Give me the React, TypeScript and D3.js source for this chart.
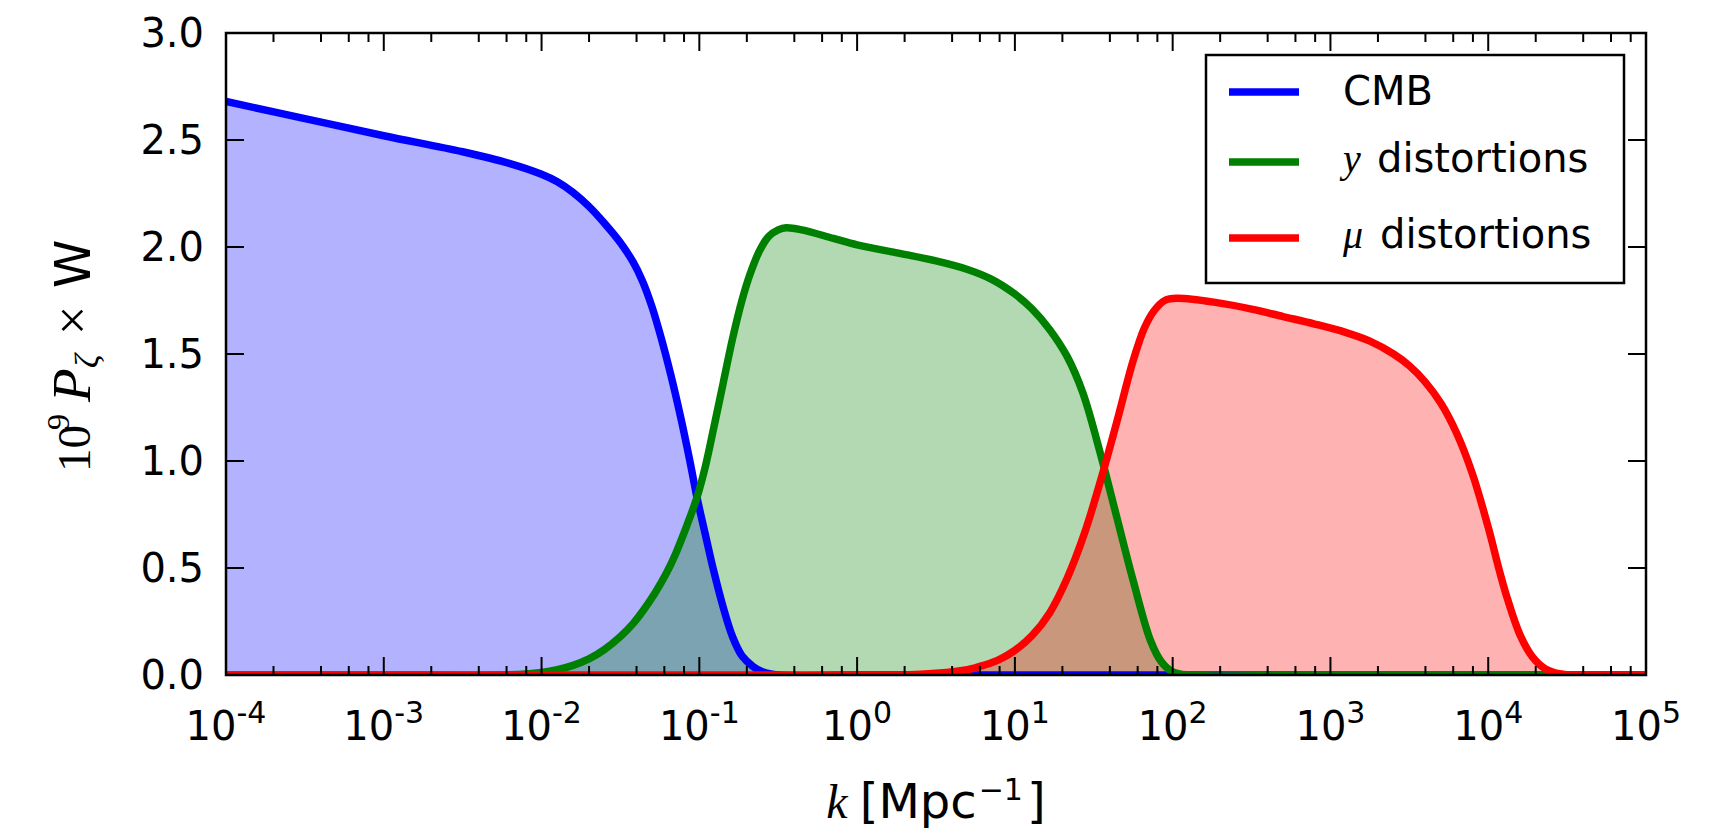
import React from "react";
import * as d3 from "d3";

// ---- data (log10 k, value) ----
const cmbLogK = [-4.0, -3.5, -3.0, -2.5, -2.2, -2.0, -1.9, -1.8, -1.7, -1.6, -1.5, -1.42, -1.36, -1.3, -1.24, -1.18, -1.12, -1.06, -1.015, -0.96, -0.91, -0.85, -0.79, -0.73, -0.66, -0.6, -0.5, 0, 1, 2, 3, 4, 5];
const cmbVal = [2.68, 2.6, 2.52, 2.445, 2.39, 2.34, 2.305, 2.255, 2.19, 2.11, 2.02, 1.93, 1.84, 1.72, 1.57, 1.4, 1.21, 1.0, 0.83, 0.65, 0.49, 0.32, 0.18, 0.09, 0.04, 0.015, 0, 0, 0, 0, 0, 0, 0];

const yLogK = [-4.0, -3.0, -2.3, -2.1, -2.0, -1.9, -1.8, -1.7, -1.6, -1.5, -1.42, -1.35, -1.28, -1.21, -1.15, -1.08, -1.015, -0.96, -0.91, -0.85, -0.79, -0.73, -0.68, -0.62, -0.56, -0.5, -0.45, -0.35, -0.15, 0.0, 0.27, 0.5, 0.7, 0.85, 1.0, 1.11, 1.22, 1.33, 1.43, 1.54, 1.645, 1.75, 1.86, 1.93, 2.0, 2.1, 3, 4, 5];
const yVal = [0, 0, 0, 0.005, 0.012, 0.025, 0.045, 0.075, 0.12, 0.18, 0.24, 0.307, 0.384, 0.474, 0.567, 0.697, 0.83, 0.98, 1.15, 1.36, 1.57, 1.75, 1.87, 1.98, 2.05, 2.08, 2.09, 2.08, 2.04, 2.01, 1.97, 1.935, 1.895, 1.85, 1.78, 1.71, 1.615, 1.49, 1.32, 1.04, 0.74, 0.44, 0.16, 0.06, 0.015, 0, 0, 0, 0];

const muLogK = [-4.0, -3, -2, -1, 0, 0.3, 0.5, 0.7, 0.8, 0.9, 1.0, 1.11, 1.22, 1.33, 1.44, 1.54, 1.645, 1.75, 1.82, 1.88, 1.95, 2.03, 2.28, 2.5, 2.7, 2.9, 3.1, 3.25, 3.4, 3.5, 3.6, 3.7, 3.8, 3.9, 4.0, 4.07, 4.12, 4.2, 4.28, 4.36, 4.45, 4.55, 5.0];
const muVal = [0, 0, 0, 0, 0, 0, 0.008, 0.025, 0.045, 0.072, 0.115, 0.185, 0.29, 0.45, 0.66, 0.9, 1.18, 1.47, 1.62, 1.7, 1.75, 1.76, 1.74, 1.71, 1.675, 1.64, 1.6, 1.56, 1.5, 1.445, 1.37, 1.27, 1.13, 0.94, 0.69, 0.49, 0.36, 0.19, 0.085, 0.03, 0.006, 0, 0];

const xTickExps = [-4, -3, -2, -1, 0, 1, 2, 3, 4, 5];
const minorSubs = [2, 4, 6, 8];
const yTicks = [0, 0.5, 1.0, 1.5, 2.0, 2.5, 3.0];

const seriesNames = ["CMB", "y", "μ"];
const seriesColors = ["#0000ff", "#008000", "#ff0000"];

export default function App() {
  const W = 1736, H = 833;
  const L = 226, R = 1646, T = 33, B = 675;
  const x = d3.scaleLog().domain([1e-4, 1e5]).range([L, R]);
  const y = d3.scaleLinear().domain([0, 3]).range([B, T]);

  const series = [
    { k: cmbLogK, v: cmbVal },
    { k: yLogK, v: yVal },
    { k: muLogK, v: muVal },
  ].map((s) => s.k.map((lk, i) => [Math.pow(10, lk), s.v[i]] as [number, number]));

  const curve = d3.curveCatmullRom.alpha(0.5);
  const line = d3.line<[number, number]>().x((d) => x(d[0])).y((d) => y(d[1])).curve(curve);
  const area = d3.area<[number, number]>().x((d) => x(d[0])).y0(y(0)).y1((d) => y(d[1])).curve(curve);

  const minorTicks: number[] = [];
  for (let e = -4; e < 5; e++) for (const s of minorSubs) minorTicks.push(s * Math.pow(10, e));

  const font = "'DejaVu Sans', sans-serif";
  const serif = "'Liberation Serif', 'DejaVu Serif', serif";
  const tickColor = "#000";

  return (
    <svg width={W} height={H} style={{ position: "absolute", left: 0, top: 0, background: "#fff" }}>
      <defs>
        <clipPath id="plotclip">
          <rect x={L} y={T} width={R - L} height={B - T} />
        </clipPath>
      </defs>
      <rect x={0} y={0} width={W} height={H} fill="#fff" />
      <g clipPath="url(#plotclip)">
        {series.map((s, i) => (
          <path key={"a" + i} d={area(s) || ""} fill={seriesColors[i]} fillOpacity={0.3} stroke="none" />
        ))}
        {series.map((s, i) => (
          <path key={"l" + i} d={line(s) || ""} fill="none" stroke={seriesColors[i]} strokeWidth={7.5} strokeLinejoin="round" />
        ))}
      </g>
      {/* x ticks */}
      {xTickExps.map((e) => {
        const px = x(Math.pow(10, e));
        return (
          <g key={"xt" + e}>
            <line x1={px} x2={px} y1={B} y2={B - 18} stroke={tickColor} strokeWidth={2} />
            <line x1={px} x2={px} y1={T} y2={T + 18} stroke={tickColor} strokeWidth={2} />
            <text x={px} y={740} textAnchor="middle" fontFamily={font} fontSize={40} fill="#000">
              10<tspan dy={-17} fontSize={30}>{e < 0 ? "-" + Math.abs(e) : String(e)}</tspan>
            </text>
          </g>
        );
      })}
      {minorTicks.map((m, i) => {
        const px = x(m);
        return (
          <g key={"mt" + i}>
            <line x1={px} x2={px} y1={B} y2={B - 9} stroke={tickColor} strokeWidth={2} />
            <line x1={px} x2={px} y1={T} y2={T + 9} stroke={tickColor} strokeWidth={2} />
          </g>
        );
      })}
      {/* y ticks */}
      {yTicks.map((t) => {
        const py = y(t);
        return (
          <g key={"yt" + t}>
            <line x1={L} x2={L + 18} y1={py} y2={py} stroke={tickColor} strokeWidth={2} />
            <line x1={R} x2={R - 18} y1={py} y2={py} stroke={tickColor} strokeWidth={2} />
            <text x={204} y={py + 14} textAnchor="end" fontFamily={font} fontSize={40} fill="#000">
              {t.toFixed(1)}
            </text>
          </g>
        );
      })}
      <rect x={L} y={T} width={R - L} height={B - T} fill="none" stroke="#000" strokeWidth={2.5} />

      {/* legend */}
      <rect x={1206} y={55} width={418} height={228} fill="#fff" stroke="#000" strokeWidth={2.5} />
      {[92, 162, 238].map((ly, i) => (
        <line key={"lg" + i} x1={1229} x2={1299} y1={ly} y2={ly} stroke={seriesColors[i]} strokeWidth={7.5} />
      ))}
      <text x={1343} y={105} fontFamily={font} fontSize={40} fill="#000">CMB</text>
      <text x={1343} y={172} fontFamily={font} fontSize={40} fill="#000">
        <tspan fontFamily={serif} fontStyle="italic">{seriesNames[1]}</tspan>
        <tspan x={1377}>distortions</tspan>
      </text>
      <text x={1343} y={248} fontFamily={font} fontSize={40} fill="#000">
        <tspan fontFamily={serif} fontStyle="italic">{seriesNames[2]}</tspan>
        <tspan x={1380}>distortions</tspan>
      </text>

      {/* x label */}
      <text x={936} y={818} textAnchor="middle" fontFamily={font} fontSize={48} fill="#000">
        <tspan fontFamily={serif} fontStyle="italic">k</tspan>
        <tspan dx={12}>[Mpc</tspan>
        <tspan dy={-18} dx={2} fontSize={30}>−1</tspan>
        <tspan dy={18} dx={4}>]</tspan>
      </text>

      {/* y label */}
      <g transform="translate(90,472) rotate(-90)" fill="#000">
        <text x={0} y={0} fontFamily={serif} fontSize={47}>10</text>
        <text x={42} y={-21} fontFamily={serif} fontSize={32}>9</text>
        <text x={70} y={0} fontFamily={serif} fontStyle="italic" fontSize={55}>P</text>
        <text x={104} y={8} fontFamily={serif} fontStyle="italic" fontSize={34}>ζ</text>
        <text x={137} y={0} fontFamily={serif} fontSize={52}>×</text>
        <text x={184} y={0} fontFamily={font} fontSize={49}>W</text>
      </g>
    </svg>
  );
}
